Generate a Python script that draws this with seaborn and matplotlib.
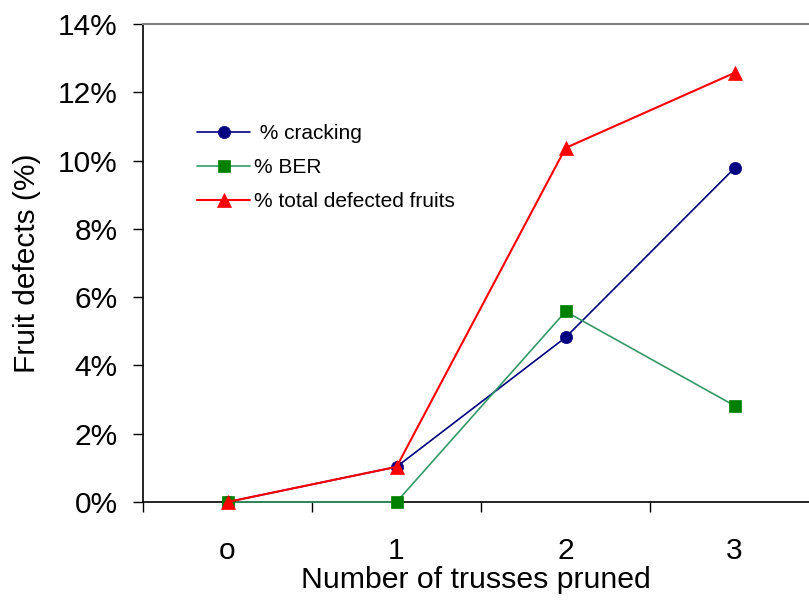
import matplotlib
matplotlib.use("Agg")
import matplotlib.pyplot as plt
from matplotlib.ticker import FixedLocator, PercentFormatter
import seaborn as sns

# Defect rates (%) by number of trusses pruned
trusses = ["o", "1", "2", "3"]
cracking = [0.0, 1.03, 4.82, 9.78]
ber = [0.0, 0.0, 5.58, 2.82]
total_defected = [0.0, 1.03, 10.37, 12.57]

series_labels = [" % cracking", "% BER", "% total defected fruits"]

sns.set_theme(style="white")
plt.rcParams["font.family"] = ["Liberation Sans", "DejaVu Sans"]
plt.rcParams["text.color"] = "black"
plt.rcParams["axes.labelcolor"] = "black"
plt.rcParams["xtick.color"] = "black"
plt.rcParams["ytick.color"] = "black"

fig = plt.figure(figsize=(8.09, 6.0), dpi=100)
ax = fig.add_axes([143 / 809, 98 / 600, 1 - 143 / 809, (502 - 24) / 600])

styles = [
    dict(values=cracking, line="#000080", face="#000080", marker="o", ms=8.8, lw=1.2),
    dict(values=ber, line="#339966", face="#008000", marker="s", ms=8.4, lw=1.2),
    dict(values=total_defected, line="#FF0000", face="#FF0000", marker="^", ms=10, lw=1.5),
]

for label, st in zip(series_labels, styles):
    sns.lineplot(
        x=trusses, y=st["values"], ax=ax, color=st["line"], linewidth=st["lw"],
        marker=st["marker"], markersize=st["ms"], markerfacecolor=st["face"],
        markeredgecolor=st["face"], markeredgewidth=0.5, label=label,
        clip_on=False, zorder=3,
    )

ax.set_ylim(0, 14)
ax.set_xlim(-0.5, 3.44)

# y axis: percent ticks every 2%
ax.yaxis.set_major_locator(FixedLocator(range(0, 15, 2)))
ax.yaxis.set_major_formatter(PercentFormatter(decimals=0))
ax.tick_params(axis="y", which="major", direction="out", length=7.2, width=1,
               color="black", left=True, labelsize=21.5, pad=11)

# x axis: tick marks between categories, labels at category centres
ax.xaxis.set_major_locator(FixedLocator([-0.5, 0.5, 1.5, 2.5, 3.5]))
ax.xaxis.set_minor_locator(FixedLocator([0, 1, 2, 3]))
ax.set_xticklabels([], minor=False)
ax.set_xticklabels(trusses, minor=True)
ax.tick_params(axis="x", which="major", direction="out", length=7.2, width=1,
               color="black", bottom=True)
ax.tick_params(axis="x", which="minor", length=0, labelsize=21.5, pad=25)

for side in ["left", "bottom"]:
    ax.spines[side].set_color("black")
    ax.spines[side].set_linewidth(1.2)
ax.spines["right"].set_visible(False)
ax.spines["top"].set_color("#808080")
ax.spines["top"].set_linewidth(1.5)

ax.set_xlabel("Number of trusses pruned", fontsize=21.8, labelpad=1)
ax.set_ylabel("Fruit defects (%)", fontsize=21.5, labelpad=12)
ax.grid(False)

leg = ax.legend(
    loc="upper left", bbox_to_anchor=(197 / 809, 1 - 124 / 600),
    bbox_transform=fig.transFigure, frameon=False, fontsize=15,
    handlelength=2.55, handletextpad=0.2, labelspacing=0.72,
    borderpad=0, borderaxespad=0,
)

fig.savefig("out.png", dpi=100, facecolor="white")
